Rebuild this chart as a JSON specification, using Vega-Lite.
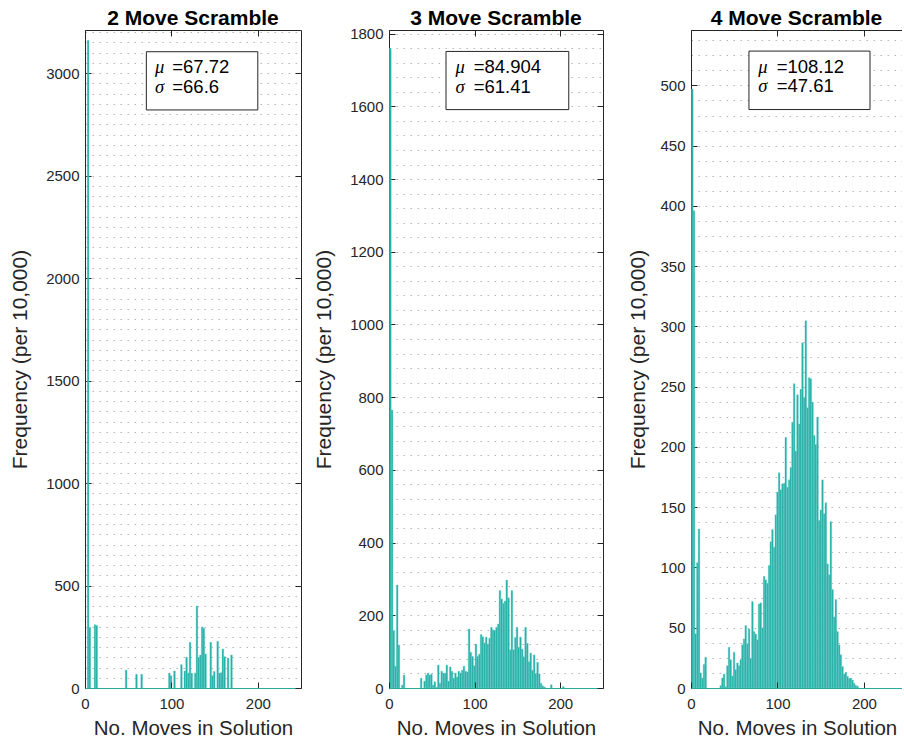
{
  "$schema": "https://vega.github.io/schema/vega-lite/v6.json",
  "padding": {"left": 9, "top": 7, "right": 0, "bottom": 0},
  "background": "white",
  "bounds": "flush",
  "spacing": 88,
  "config": {
    "font": "Liberation Sans",
    "view": {"stroke": null},
    "axis": {
      "minExtent": 0,
      "domainColor": "#262626",
      "tickColor": "#262626",
      "labelColor": "#262626",
      "titleColor": "#262626",
      "labelFont": "Liberation Sans",
      "titleFont": "Liberation Sans",
      "labelFontSize": 15,
      "titleFontSize": 20.5,
      "titleFontWeight": "normal",
      "grid": false,
      "domainWidth": 1,
      "tickWidth": 1,
      "labelFlush": false,
      "labelOverlap": false
    },
    "axisLeft": {"titleFontSize": 21},
    "title": {"font": "Liberation Sans", "fontSize": 21, "fontWeight": "bold", "color": "#000000", "offset": 1}
  },
  "datasets": {
    "p1": [
      {"bin_start": 2, "freq": 3160}, {"bin_start": 4, "freq": 296}, {"bin_start": 10, "freq": 309}, {"bin_start": 12, "freq": 305},
      {"bin_start": 46, "freq": 88}, {"bin_start": 58, "freq": 67}, {"bin_start": 64, "freq": 67}, {"bin_start": 96, "freq": 73},
      {"bin_start": 98, "freq": 60}, {"bin_start": 102, "freq": 83}, {"bin_start": 110, "freq": 114}, {"bin_start": 114, "freq": 83},
      {"bin_start": 116, "freq": 150}, {"bin_start": 118, "freq": 73}, {"bin_start": 120, "freq": 223}, {"bin_start": 122, "freq": 72},
      {"bin_start": 126, "freq": 73}, {"bin_start": 128, "freq": 400}, {"bin_start": 130, "freq": 148}, {"bin_start": 132, "freq": 161},
      {"bin_start": 134, "freq": 298}, {"bin_start": 136, "freq": 292}, {"bin_start": 138, "freq": 166}, {"bin_start": 144, "freq": 223},
      {"bin_start": 146, "freq": 60}, {"bin_start": 148, "freq": 81}, {"bin_start": 152, "freq": 228}, {"bin_start": 154, "freq": 73},
      {"bin_start": 156, "freq": 75}, {"bin_start": 158, "freq": 190}, {"bin_start": 160, "freq": 153}, {"bin_start": 164, "freq": 146},
      {"bin_start": 168, "freq": 161}
    ],
    "p2": [
      {"bin_start": 0, "freq": 1760}, {"bin_start": 2, "freq": 765}, {"bin_start": 4, "freq": 158}, {"bin_start": 6, "freq": 60},
      {"bin_start": 8, "freq": 283}, {"bin_start": 10, "freq": 118}, {"bin_start": 14, "freq": 8}, {"bin_start": 16, "freq": 36},
      {"bin_start": 36, "freq": 27}, {"bin_start": 40, "freq": 19}, {"bin_start": 42, "freq": 36}, {"bin_start": 44, "freq": 41},
      {"bin_start": 46, "freq": 36}, {"bin_start": 48, "freq": 38}, {"bin_start": 50, "freq": 8}, {"bin_start": 52, "freq": 17},
      {"bin_start": 54, "freq": 2}, {"bin_start": 56, "freq": 63}, {"bin_start": 58, "freq": 13}, {"bin_start": 60, "freq": 46},
      {"bin_start": 62, "freq": 41}, {"bin_start": 64, "freq": 41}, {"bin_start": 66, "freq": 63}, {"bin_start": 68, "freq": 19},
      {"bin_start": 70, "freq": 58}, {"bin_start": 72, "freq": 46}, {"bin_start": 74, "freq": 27}, {"bin_start": 76, "freq": 41},
      {"bin_start": 78, "freq": 30}, {"bin_start": 80, "freq": 46}, {"bin_start": 82, "freq": 41}, {"bin_start": 84, "freq": 49},
      {"bin_start": 86, "freq": 60}, {"bin_start": 88, "freq": 46}, {"bin_start": 90, "freq": 44}, {"bin_start": 92, "freq": 162},
      {"bin_start": 94, "freq": 98}, {"bin_start": 96, "freq": 87}, {"bin_start": 98, "freq": 61}, {"bin_start": 100, "freq": 121},
      {"bin_start": 102, "freq": 87}, {"bin_start": 104, "freq": 93}, {"bin_start": 106, "freq": 147}, {"bin_start": 108, "freq": 141},
      {"bin_start": 110, "freq": 124}, {"bin_start": 112, "freq": 140}, {"bin_start": 114, "freq": 121}, {"bin_start": 116, "freq": 137},
      {"bin_start": 118, "freq": 167}, {"bin_start": 120, "freq": 160}, {"bin_start": 122, "freq": 158}, {"bin_start": 124, "freq": 167},
      {"bin_start": 126, "freq": 176}, {"bin_start": 128, "freq": 268}, {"bin_start": 130, "freq": 245}, {"bin_start": 132, "freq": 233},
      {"bin_start": 134, "freq": 239}, {"bin_start": 136, "freq": 297}, {"bin_start": 138, "freq": 248}, {"bin_start": 140, "freq": 105},
      {"bin_start": 142, "freq": 268}, {"bin_start": 144, "freq": 105}, {"bin_start": 146, "freq": 139}, {"bin_start": 148, "freq": 167},
      {"bin_start": 150, "freq": 112}, {"bin_start": 152, "freq": 140}, {"bin_start": 154, "freq": 107}, {"bin_start": 156, "freq": 86},
      {"bin_start": 158, "freq": 167}, {"bin_start": 160, "freq": 123}, {"bin_start": 162, "freq": 72}, {"bin_start": 164, "freq": 96},
      {"bin_start": 166, "freq": 49}, {"bin_start": 168, "freq": 91}, {"bin_start": 170, "freq": 40}, {"bin_start": 172, "freq": 71},
      {"bin_start": 174, "freq": 39}, {"bin_start": 176, "freq": 13}, {"bin_start": 178, "freq": 6}, {"bin_start": 180, "freq": 3},
      {"bin_start": 188, "freq": 9}, {"bin_start": 202, "freq": 4}
    ],
    "p3": [
      {"bin_start": 0, "freq": 497}, {"bin_start": 1.93, "freq": 396}, {"bin_start": 3.86, "freq": 45}, {"bin_start": 5.79, "freq": 104},
      {"bin_start": 7.72, "freq": 132}, {"bin_start": 9.65, "freq": 12.5}, {"bin_start": 11.58, "freq": 8.3}, {"bin_start": 13.51, "freq": 19.6},
      {"bin_start": 15.44, "freq": 25.5},
      {"bin_start": 32.81, "freq": 2}, {"bin_start": 34.74, "freq": 8.3}, {"bin_start": 36.67, "freq": 11.6}, {"bin_start": 38.6, "freq": 1},
      {"bin_start": 40.53, "freq": 18.5}, {"bin_start": 42.46, "freq": 33.8}, {"bin_start": 44.39, "freq": 23.5}, {"bin_start": 46.32, "freq": 10},
      {"bin_start": 48.25, "freq": 29.6}, {"bin_start": 50.18, "freq": 15.2}, {"bin_start": 52.11, "freq": 20.8}, {"bin_start": 54.04, "freq": 18.5},
      {"bin_start": 55.97, "freq": 23.5}, {"bin_start": 57.9, "freq": 35.8}, {"bin_start": 59.83, "freq": 40.7}, {"bin_start": 61.76, "freq": 51.8},
      {"bin_start": 63.69, "freq": 36.6}, {"bin_start": 65.62, "freq": 49}, {"bin_start": 67.55, "freq": 24.6}, {"bin_start": 69.48, "freq": 71.7},
      {"bin_start": 71.41, "freq": 46.8}, {"bin_start": 73.34, "freq": 44.8}, {"bin_start": 75.27, "freq": 40}, {"bin_start": 77.2, "freq": 69.7},
      {"bin_start": 79.13, "freq": 70.6}, {"bin_start": 81.06, "freq": 49.9}, {"bin_start": 82.99, "freq": 92.7}, {"bin_start": 84.92, "freq": 89.7},
      {"bin_start": 86.85, "freq": 87}, {"bin_start": 88.78, "freq": 101.6}, {"bin_start": 90.71, "freq": 121.5}, {"bin_start": 92.64, "freq": 131.5},
      {"bin_start": 94.57, "freq": 116.8}, {"bin_start": 96.5, "freq": 143.7}, {"bin_start": 98.43, "freq": 162.5}, {"bin_start": 100.36, "freq": 178.6},
      {"bin_start": 102.29, "freq": 164.5}, {"bin_start": 104.22, "freq": 169.4}, {"bin_start": 106.15, "freq": 170}, {"bin_start": 108.08, "freq": 208},
      {"bin_start": 110.01, "freq": 166.6}, {"bin_start": 111.94, "freq": 172.7}, {"bin_start": 113.87, "freq": 183}, {"bin_start": 115.8, "freq": 220.6},
      {"bin_start": 117.73, "freq": 252.5}, {"bin_start": 119.66, "freq": 196.6}, {"bin_start": 121.59, "freq": 243.4}, {"bin_start": 123.52, "freq": 219},
      {"bin_start": 125.45, "freq": 247.8}, {"bin_start": 127.38, "freq": 286.5}, {"bin_start": 129.31, "freq": 241}, {"bin_start": 131.24, "freq": 304.8},
      {"bin_start": 133.17, "freq": 232.6}, {"bin_start": 135.1, "freq": 257.5}, {"bin_start": 137.03, "freq": 256.7}, {"bin_start": 138.96, "freq": 237.3},
      {"bin_start": 140.89, "freq": 209.6}, {"bin_start": 142.82, "freq": 202}, {"bin_start": 144.75, "freq": 224.8}, {"bin_start": 146.68, "freq": 139},
      {"bin_start": 148.61, "freq": 147.8}, {"bin_start": 150.54, "freq": 172.7}, {"bin_start": 152.47, "freq": 144.6}, {"bin_start": 154.4, "freq": 153.7},
      {"bin_start": 156.33, "freq": 103}, {"bin_start": 158.26, "freq": 94}, {"bin_start": 160.19, "freq": 138}, {"bin_start": 162.12, "freq": 81.7},
      {"bin_start": 164.05, "freq": 59}, {"bin_start": 165.98, "freq": 73.5}, {"bin_start": 167.91, "freq": 46.8}, {"bin_start": 169.84, "freq": 35.8},
      {"bin_start": 171.77, "freq": 27.5}, {"bin_start": 173.7, "freq": 17.8}, {"bin_start": 175.63, "freq": 11.6}, {"bin_start": 177.56, "freq": 13},
      {"bin_start": 179.49, "freq": 9.7}, {"bin_start": 181.42, "freq": 8}, {"bin_start": 183.35, "freq": 8.3}, {"bin_start": 185.28, "freq": 6.6},
      {"bin_start": 187.21, "freq": 3.9}, {"bin_start": 189.14, "freq": 2}, {"bin_start": 191.07, "freq": 1.5}
    ],
    "stats": [
      {"panel": "2 Move Scramble", "mu_label": "=67.72", "sigma_label": "=66.6"},
      {"panel": "3 Move Scramble", "mu_label": "=84.904", "sigma_label": "=61.41"},
      {"panel": "4 Move Scramble", "mu_label": "=108.12", "sigma_label": "=47.61"}
    ]
  },
  "hconcat": [
    {
      "title": {"text": "2 Move Scramble", "offset": 1},
      "width": 216,
      "height": 658,
      "resolve": {"axis": {"x": "independent", "y": "independent"}},
      "layer": [
        {
          "data": {"name": "p1"},
          "mark": {"type": "bar", "fill": "#20aea6", "stroke": "#6fcfc8", "strokeWidth": 0.4, "binSpacing": 0},
          "encoding": {
            "x": {"field": "bin_start", "type": "quantitative", "bin": {"binned": true, "step": 2},
              "scale": {"domain": [0, 250], "nice": false, "zero": false},
              "axis": {"orient": "bottom", "values": [0, 100, 200], "format": "d", "tickSize": -6, "labelPadding": 14, "domainColor": "#2aa9a1",
                "title": "No. Moves in Solution", "titlePadding": 7, "zindex": 1}},
            "y": {"field": "freq", "type": "quantitative",
              "scale": {"domain": [0, 3210], "nice": false},
              "axis": {"orient": "left", "format": "d", "title": "Frequency (per 10,000)", "titlePadding": 15,
                "values": [0,50,100,150,200,250,300,350,400,450,500,550,600,650,700,750,800,850,900,950,1000,1050,1100,1150,1200,1250,1300,1350,1400,1450,1500,1550,1600,1650,1700,1750,1800,1850,1900,1950,2000,2050,2100,2150,2200,2250,2300,2350,2400,2450,2500,2550,2600,2650,2700,2750,2800,2850,2900,2950,3000,3050,3100,3150,3200],
                "labelExpr": "datum.value % 500 == 0 ? datum.label : ''",
                "labelFontSize": {"condition": {"test": "datum.value % 500 == 0", "value": 15}, "value": 0},
                "tickOpacity": {"condition": {"test": "datum.value % 500 == 0", "value": 1}, "value": 0},
                "tickSize": -6, "labelPadding": 12,
                "grid": true, "gridDash": [1.5, 5.5], "gridColor": "#b5b5b5", "gridWidth": 1}}
          }
        },
        {
          "data": {"values": [{}]},
          "mark": {"type": "rect", "fill": "white", "stroke": "#262626", "strokeWidth": 1},
          "encoding": {
            "x": {"datum": 71, "type": "quantitative", "scale": {"domain": [0, 250], "nice": false, "zero": false},
              "axis": {"orient": "top", "values": [0, 100, 200], "labels": false, "tickSize": -6, "title": null, "zindex": 1}},
            "x2": {"datum": 200},
            "y": {"datum": 3104, "type": "quantitative", "scale": {"domain": [0, 3210], "nice": false},
              "axis": {"orient": "right", "values": [0, 500, 1000, 1500, 2000, 2500, 3000], "labels": false, "tickSize": -6, "title": null, "zindex": 1}},
            "y2": {"datum": 2820}
          }
        },
        {
          "data": {"name": "stats"},
          "transform": [{"filter": "datum.panel == '2 Move Scramble'"}],
          "mark": {"type": "text", "text": "μ", "font": "Liberation Serif", "fontStyle": "italic", "fontSize": 18.5, "align": "left", "baseline": "alphabetic", "color": "#000000"},
          "encoding": {"x": {"datum": 81, "type": "quantitative", "axis": null}, "y": {"datum": 2998, "type": "quantitative", "axis": null}}
        },
        {
          "data": {"name": "stats"},
          "transform": [{"filter": "datum.panel == '2 Move Scramble'"}],
          "mark": {"type": "text", "text": "σ", "font": "Liberation Serif", "fontStyle": "italic", "fontSize": 18.5, "align": "left", "baseline": "alphabetic", "color": "#000000"},
          "encoding": {"x": {"datum": 81, "type": "quantitative", "axis": null}, "y": {"datum": 2902, "type": "quantitative", "axis": null}}
        },
        {
          "data": {"name": "stats"},
          "transform": [{"filter": "datum.panel == '2 Move Scramble'"}],
          "mark": {"type": "text", "fontSize": 18.5, "align": "left", "baseline": "alphabetic", "color": "#000000"},
          "encoding": {"x": {"datum": 101, "type": "quantitative", "axis": null}, "y": {"datum": 2998, "type": "quantitative", "axis": null}, "text": {"field": "mu_label"}}
        },
        {
          "data": {"name": "stats"},
          "transform": [{"filter": "datum.panel == '2 Move Scramble'"}],
          "mark": {"type": "text", "fontSize": 18.5, "align": "left", "baseline": "alphabetic", "color": "#000000"},
          "encoding": {"x": {"datum": 101, "type": "quantitative", "axis": null}, "y": {"datum": 2902, "type": "quantitative", "axis": null}, "text": {"field": "sigma_label"}}
        }
      ]
    },
    {
      "title": {"text": "3 Move Scramble", "offset": -2.5},
      "width": 214,
      "height": 658,
      "resolve": {"axis": {"x": "independent", "y": "independent"}},
      "layer": [
        {
          "data": {"name": "p2"},
          "mark": {"type": "bar", "fill": "#20aea6", "stroke": "#6fcfc8", "strokeWidth": 0.4, "binSpacing": 0},
          "encoding": {
            "x": {"field": "bin_start", "type": "quantitative", "bin": {"binned": true, "step": 2},
              "scale": {"domain": [0, 250], "nice": false, "zero": false},
              "axis": {"orient": "bottom", "values": [0, 100, 200], "format": "d", "tickSize": -6, "labelPadding": 14, "domainColor": "#2aa9a1",
                "title": "No. Moves in Solution", "titlePadding": 7, "zindex": 1}},
            "y": {"field": "freq", "type": "quantitative",
              "scale": {"domain": [0, 1810], "nice": false},
              "axis": {"orient": "left", "format": "d", "title": "Frequency (per 10,000)", "titlePadding": 15,
                "values": [0,40,80,120,160,200,240,280,320,360,400,440,480,520,560,600,640,680,720,760,800,840,880,920,960,1000,1040,1080,1120,1160,1200,1240,1280,1320,1360,1400,1440,1480,1520,1560,1600,1640,1680,1720,1760,1800],
                "labelExpr": "datum.value % 200 == 0 ? datum.label : ''",
                "labelFontSize": {"condition": {"test": "datum.value % 200 == 0", "value": 15}, "value": 0},
                "tickOpacity": {"condition": {"test": "datum.value % 200 == 0", "value": 1}, "value": 0},
                "tickSize": -6, "labelPadding": 12,
                "grid": true, "gridDash": [1.5, 5.5], "gridColor": "#b5b5b5", "gridWidth": 1}}
          }
        },
        {
          "data": {"values": [{}]},
          "mark": {"type": "rect", "fill": "white", "stroke": "#262626", "strokeWidth": 1},
          "encoding": {
            "x": {"datum": 66.6, "type": "quantitative", "scale": {"domain": [0, 250], "nice": false, "zero": false},
              "axis": {"orient": "top", "values": [0, 100, 200], "labels": false, "tickSize": -6, "title": null, "zindex": 1}},
            "x2": {"datum": 210},
            "y": {"datum": 1751, "type": "quantitative", "scale": {"domain": [0, 1810], "nice": false},
              "axis": {"orient": "right", "values": [0, 200, 400, 600, 800, 1000, 1200, 1400, 1600, 1800], "labels": false, "tickSize": -6, "title": null, "zindex": 1}},
            "y2": {"datum": 1591}
          }
        },
        {
          "data": {"name": "stats"},
          "transform": [{"filter": "datum.panel == '3 Move Scramble'"}],
          "mark": {"type": "text", "text": "μ", "font": "Liberation Serif", "fontStyle": "italic", "fontSize": 18.5, "align": "left", "baseline": "alphabetic", "color": "#000000"},
          "encoding": {"x": {"datum": 77.6, "type": "quantitative", "axis": null}, "y": {"datum": 1692, "type": "quantitative", "axis": null}}
        },
        {
          "data": {"name": "stats"},
          "transform": [{"filter": "datum.panel == '3 Move Scramble'"}],
          "mark": {"type": "text", "text": "σ", "font": "Liberation Serif", "fontStyle": "italic", "fontSize": 18.5, "align": "left", "baseline": "alphabetic", "color": "#000000"},
          "encoding": {"x": {"datum": 77.6, "type": "quantitative", "axis": null}, "y": {"datum": 1638, "type": "quantitative", "axis": null}}
        },
        {
          "data": {"name": "stats"},
          "transform": [{"filter": "datum.panel == '3 Move Scramble'"}],
          "mark": {"type": "text", "fontSize": 18.5, "align": "left", "baseline": "alphabetic", "color": "#000000"},
          "encoding": {"x": {"datum": 98.9, "type": "quantitative", "axis": null}, "y": {"datum": 1692, "type": "quantitative", "axis": null}, "text": {"field": "mu_label"}}
        },
        {
          "data": {"name": "stats"},
          "transform": [{"filter": "datum.panel == '3 Move Scramble'"}],
          "mark": {"type": "text", "fontSize": 18.5, "align": "left", "baseline": "alphabetic", "color": "#000000"},
          "encoding": {"x": {"datum": 98.9, "type": "quantitative", "axis": null}, "y": {"datum": 1638, "type": "quantitative", "axis": null}, "text": {"field": "sigma_label"}}
        }
      ]
    },
    {
      "title": {"text": "4 Move Scramble", "offset": 1},
      "width": 211,
      "height": 658,
      "resolve": {"axis": {"x": "independent", "y": "independent"}},
      "layer": [
        {
          "data": {"name": "p3"},
          "mark": {"type": "bar", "fill": "#20aea6", "stroke": "#6fcfc8", "strokeWidth": 0.4, "binSpacing": 0},
          "encoding": {
            "x": {"field": "bin_start", "type": "quantitative", "bin": {"binned": true, "step": 1.93},
              "scale": {"domain": [0, 244], "nice": false, "zero": false},
              "axis": {"orient": "bottom", "values": [0, 100, 200], "format": "d", "tickSize": -6, "labelPadding": 14, "domainColor": "#2aa9a1",
                "title": "No. Moves in Solution", "titlePadding": 7, "titleX": 106, "zindex": 1}},
            "y": {"field": "freq", "type": "quantitative",
              "scale": {"domain": [0, 546], "nice": false},
              "axis": {"orient": "left", "format": "d", "title": "Frequency (per 10,000)", "titlePadding": 11,
                "values": [0,12.5,25,37.5,50,62.5,75,87.5,100,112.5,125,137.5,150,162.5,175,187.5,200,212.5,225,237.5,250,262.5,275,287.5,300,312.5,325,337.5,350,362.5,375,387.5,400,412.5,425,437.5,450,462.5,475,487.5,500,512.5,525,537.5],
                "labelExpr": "datum.value % 50 == 0 ? datum.label : ''",
                "labelFontSize": {"condition": {"test": "datum.value % 50 == 0", "value": 15}, "value": 0},
                "tickOpacity": {"condition": {"test": "datum.value % 50 == 0", "value": 1}, "value": 0},
                "tickSize": -6, "labelPadding": 12,
                "grid": true, "gridDash": [1.5, 5.5], "gridColor": "#b5b5b5", "gridWidth": 1}}
          }
        },
        {
          "data": {"values": [{}]},
          "mark": {"type": "rect", "fill": "white", "stroke": "#262626", "strokeWidth": 1},
          "encoding": {
            "x": {"datum": 67, "type": "quantitative", "scale": {"domain": [0, 244], "nice": false, "zero": false},
              "axis": {"orient": "top", "values": [0, 100, 200], "labels": false, "tickSize": -6, "title": null, "zindex": 1}},
            "x2": {"datum": 207},
            "y": {"datum": 528.5, "type": "quantitative", "scale": {"domain": [0, 546], "nice": false}, "axis": null},
            "y2": {"datum": 480}
          }
        },
        {
          "data": {"name": "stats"},
          "transform": [{"filter": "datum.panel == '4 Move Scramble'"}],
          "mark": {"type": "text", "text": "μ", "font": "Liberation Serif", "fontStyle": "italic", "fontSize": 18.5, "align": "left", "baseline": "alphabetic", "color": "#000000"},
          "encoding": {"x": {"datum": 77.9, "type": "quantitative", "axis": null}, "y": {"datum": 510.5, "type": "quantitative", "axis": null}}
        },
        {
          "data": {"name": "stats"},
          "transform": [{"filter": "datum.panel == '4 Move Scramble'"}],
          "mark": {"type": "text", "text": "σ", "font": "Liberation Serif", "fontStyle": "italic", "fontSize": 18.5, "align": "left", "baseline": "alphabetic", "color": "#000000"},
          "encoding": {"x": {"datum": 77.9, "type": "quantitative", "axis": null}, "y": {"datum": 494.2, "type": "quantitative", "axis": null}}
        },
        {
          "data": {"name": "stats"},
          "transform": [{"filter": "datum.panel == '4 Move Scramble'"}],
          "mark": {"type": "text", "fontSize": 18.5, "align": "left", "baseline": "alphabetic", "color": "#000000"},
          "encoding": {"x": {"datum": 99.1, "type": "quantitative", "axis": null}, "y": {"datum": 510.5, "type": "quantitative", "axis": null}, "text": {"field": "mu_label"}}
        },
        {
          "data": {"name": "stats"},
          "transform": [{"filter": "datum.panel == '4 Move Scramble'"}],
          "mark": {"type": "text", "fontSize": 18.5, "align": "left", "baseline": "alphabetic", "color": "#000000"},
          "encoding": {"x": {"datum": 99.1, "type": "quantitative", "axis": null}, "y": {"datum": 494.2, "type": "quantitative", "axis": null}, "text": {"field": "sigma_label"}}
        }
      ]
    }
  ]
}
